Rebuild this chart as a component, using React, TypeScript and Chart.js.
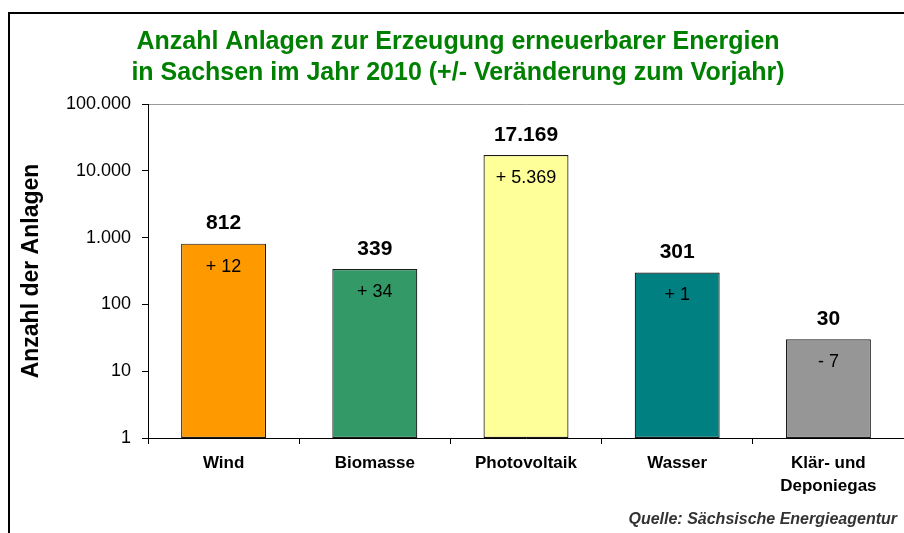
import React, { useEffect, useRef } from "react";
import { Chart, registerables } from "chart.js";

Chart.register(...registerables);

const categories: (string | string[])[] = ["Wind", "Biomasse", "Photovoltaik", "Wasser", ["Klär- und", "Deponiegas"]];
const anlagen2010: number[] = [812, 339, 17169, 301, 30];
const veraenderung: number[] = [12, 34, 5369, 1, -7];
const barColors: string[] = ["#FF9900", "#339966", "#FFFF99", "#008080", "#969696"];
const yTickValues: number[] = [1, 10, 100, 1000, 10000, 100000];
const titleLines: string[] = [
  "Anzahl Anlagen zur Erzeugung erneuerbarer Energien",
  "in Sachsen im Jahr 2010 (+/- Veränderung zum Vorjahr)",
];
const yAxisTitle = "Anzahl der Anlagen";
const sourceText = "Quelle: Sächsische Energieagentur";

const FONT = "Arial, 'Liberation Sans', Helvetica, sans-serif";

function fmt(n: number): string {
  const s = Math.abs(Math.round(n)).toString().replace(/\B(?=(\d{3})+(?!\d))/g, ".");
  return n < 0 ? "-" + s : s;
}
function fmtDelta(n: number): string {
  return (n < 0 ? "- " : "+ ") + fmt(Math.abs(n));
}

const decorPlugin = {
  id: "decor",
  afterDraw(chart: any) {
    const ctx = chart.ctx;
    ctx.save();
    ctx.strokeStyle = "#000";
    ctx.lineWidth = 2;
    ctx.beginPath();
    ctx.moveTo(9, 533);
    ctx.lineTo(9, 13);
    ctx.lineTo(904, 13);
    ctx.stroke();
    ctx.fillStyle = "#333";
    ctx.font = "italic bold 16px " + FONT;
    ctx.textAlign = "right";
    ctx.textBaseline = "middle";
    ctx.fillText(sourceText, 897, 520);
    ctx.restore();
  },
  afterDatasetsDraw(chart: any) {
    const ctx = chart.ctx;
    const meta = chart.getDatasetMeta(0);
    ctx.save();
    ctx.textAlign = "center";
    ctx.textBaseline = "middle";
    ctx.fillStyle = "#000";
    meta.data.forEach((bar: any, i: number) => {
      ctx.font = "bold 21px " + FONT;
      ctx.fillText(fmt(anlagen2010[i]), bar.x, bar.y - 20);
      ctx.font = "18px " + FONT;
      ctx.fillText(fmtDelta(veraenderung[i]), bar.x, bar.y + 23);
    });
    ctx.restore();
  },
};

export default function App() {
  const ref = useRef<HTMLCanvasElement | null>(null);
  useEffect(() => {
    if (!ref.current) return;
    const chart = new Chart(ref.current, {
      type: "bar",
      data: {
        labels: categories,
        datasets: [
          {
            data: anlagen2010,
            backgroundColor: barColors,
            borderColor: "#1a1a1a",
            borderWidth: 1.2,
            borderSkipped: false,
            barPercentage: 0.562,
            categoryPercentage: 1,
          },
        ],
      },
      options: {
        animation: false,
        responsive: false,
        layout: { padding: { left: 12, right: 0, top: 0, bottom: 0 } },
        plugins: {
          legend: { display: false },
          tooltip: { enabled: false },
          title: {
            display: true,
            text: titleLines,
            color: "#008000",
            font: { family: FONT, size: 25, weight: "bold", lineHeight: 1.24 },
            padding: { top: 27, bottom: 15 },
          },
        },
        scales: {
          x: {
            type: "category",
            offset: true,
            grid: {
              offset: true,
              drawOnChartArea: false,
              drawTicks: true,
              tickLength: 6,
              color: "#000",
            },
            border: { display: true, color: "#000", width: 1 },
            ticks: {
              color: "#000",
              padding: 8,
              maxRotation: 0,
              autoSkip: false,
              font: { family: FONT, size: 17, weight: "bold", lineHeight: 1.35 },
            },
            afterFit(scale: any) {
              scale.height = 95;
            },
          },
          y: {
            type: "logarithmic",
            min: 1,
            max: 100000,
            afterBuildTicks(scale: any) {
              scale.ticks = yTickValues.map((v) => ({ value: v }));
            },
            afterFit(scale: any) {
              scale.width = 136;
            },
            grid: {
              drawOnChartArea: true,
              drawTicks: true,
              tickLength: 6,
              color: (c: any) => (c.tick && c.tick.value === 100000 ? "#999" : "rgba(0,0,0,0)"),
              tickColor: "#000",
            },
            border: { display: true, color: "#000", width: 1 },
            ticks: {
              color: "#000",
              padding: 11,
              autoSkip: false,
              font: { family: FONT, size: 18 },
              callback: (v: any) => fmt(Number(v)),
            },
            title: {
              display: true,
              text: yAxisTitle,
              color: "#000",
              font: { family: FONT, size: 23, weight: "bold", lineHeight: 1.2 },
              padding: { top: 6, bottom: 0 },
            },
          },
        },
      },
      plugins: [decorPlugin],
    });
    return () => chart.destroy();
  }, []);
  return (
    <div style={{ position: "absolute", left: 0, top: 0, width: 904, height: 533, background: "#fff" }}>
      <canvas ref={ref} width={904} height={533} style={{ display: "block" }} />
    </div>
  );
}
